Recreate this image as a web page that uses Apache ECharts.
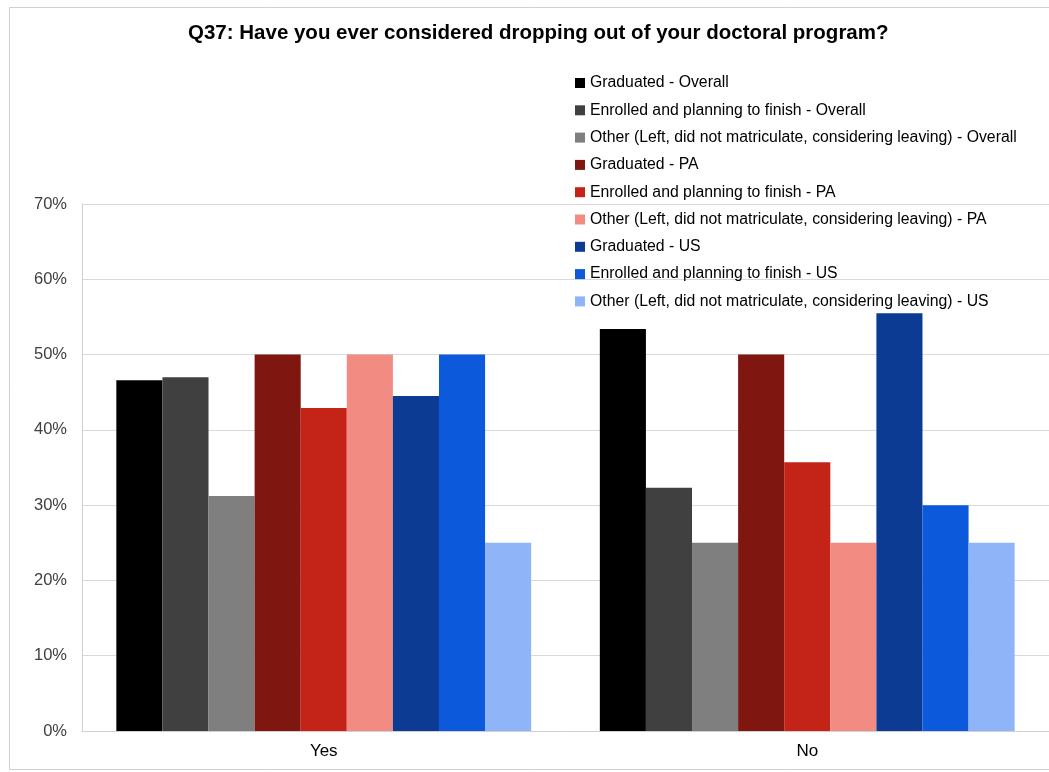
<!DOCTYPE html>
<html><head><meta charset="utf-8">
<script src="https://cdn.jsdelivr.net/npm/echarts@6/dist/echarts.min.js"></script>
<style>html,body{margin:0;padding:0;background:#fff}#c{width:1049px;height:772px}</style>
</head><body><div id="c"></div>
<script>
const categories = ['Yes', 'No'];
const seriesNames = [
  'Graduated - Overall',
  'Enrolled and planning to finish - Overall',
  'Other (Left, did not matriculate, considering leaving) - Overall',
  'Graduated - PA',
  'Enrolled and planning to finish - PA',
  'Other (Left, did not matriculate, considering leaving) - PA',
  'Graduated - US',
  'Enrolled and planning to finish - US',
  'Other (Left, did not matriculate, considering leaving) - US'
];
const gradOverall = [46.6, 53.4];
const enrolledOverall = [47.0, 32.3];
const otherOverall = [31.2, 25.0];
const gradPA = [50.0, 50.0];
const enrolledPA = [42.9, 35.7];
const otherPA = [50.0, 25.0];
const gradUS = [44.5, 55.5];
const enrolledUS = [50.0, 30.0];
const otherUS = [25.0, 25.0];
const yTicks = [0, 10, 20, 30, 40, 50, 60, 70];

const values = [gradOverall, enrolledOverall, otherOverall, gradPA, enrolledPA, otherPA, gradUS, enrolledUS, otherUS];
const colors = ['#000000', '#404040', '#7f7f7f', '#7f1710', '#c42318', '#f28b82', '#0c3b94', '#0c5adb', '#8fb4f7'];

const chart = echarts.init(document.getElementById('c'));
chart.setOption({
  animation: false,
  color: colors,
  title: {
    text: 'Q37: Have you ever considered dropping out of your doctoral program?',
    left: 183, top: 18,
    textStyle: {fontFamily: 'Liberation Sans', fontWeight: 'bold', fontSize: 20.5, color: '#000'}
  },
  graphic: [{
    type: 'rect', left: 7, top: 5, shape: {width: 1060, height: 762},
    style: {fill: 'none', stroke: '#d0d0d0', lineWidth: 1}, silent: true, z: -1
  }],
  legend: {
    orient: 'vertical', left: 570, top: 70,
    itemWidth: 10, itemHeight: 10, itemGap: 11.3,
    icon: 'rect',
    textStyle: {fontFamily: 'Liberation Sans', fontSize: 15.8, color: '#000', lineHeight: 16},
    data: seriesNames
  },
  grid: {left: 82, right: -5, top: 204, bottom: 41, containLabel: false},
  xAxis: {
    type: 'category', data: categories,
    axisLine: {lineStyle: {color: '#d0d0d0'}},
    axisTick: {show: false},
    axisLabel: {fontFamily: 'Liberation Sans', fontSize: 17, color: '#000', margin: 12}
  },
  yAxis: {
    type: 'value', min: 0, max: 70, interval: 10,
    axisLine: {show: true, lineStyle: {color: '#d0d0d0'}},
    axisTick: {show: false},
    splitLine: {lineStyle: {color: '#d9d9d9'}},
    axisLabel: {fontFamily: 'Liberation Sans', fontSize: 16.5, color: '#404040', margin: 15,
      formatter: v => yTicks.includes(v) ? v + '%' : ''}
  },
  series: seriesNames.map((n, i) => ({
    name: n, type: 'bar', data: values[i],
    barGap: '0%', barCategoryGap: '14.2%',
    itemStyle: {color: colors[i]}
  }))
});
</script></body></html>
